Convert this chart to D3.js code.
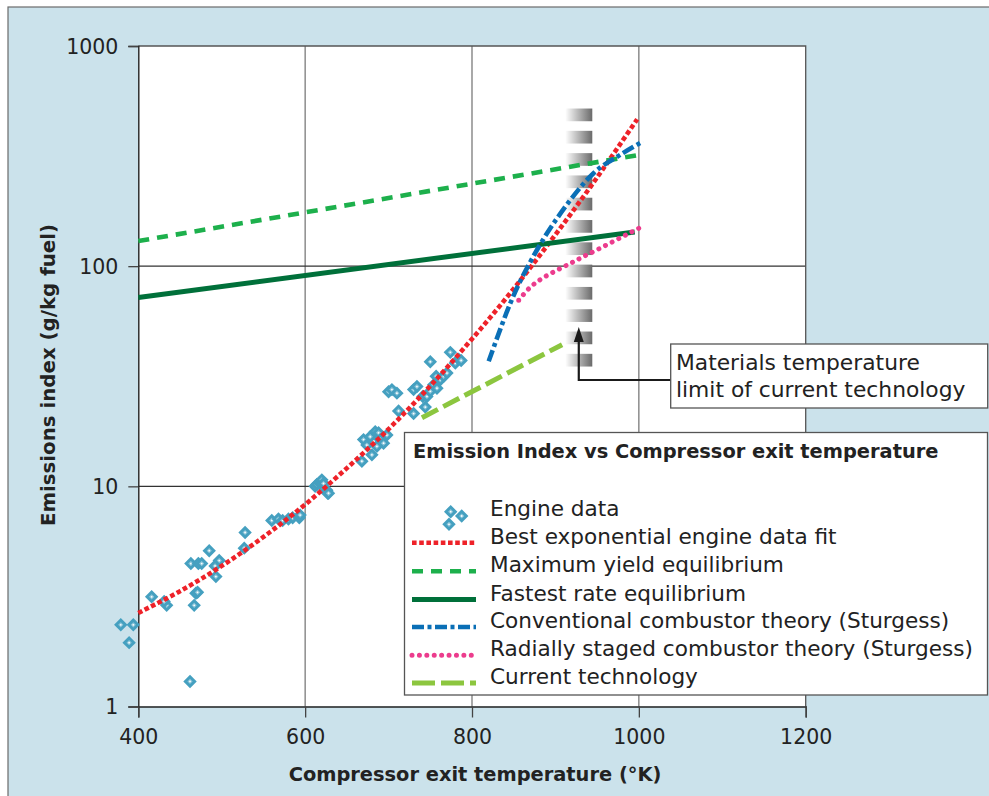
<!DOCTYPE html>
<html>
<head>
<meta charset="utf-8">
<script src="https://cdn.jsdelivr.net/npm/d3@7"></script>
<style>
  html, body { margin: 0; padding: 0; background: #ffffff; }
  svg { display: block; font-family: "DejaVu Sans", sans-serif; }
</style>
</head>
<body>
<svg id="chart" width="989" height="796"></svg>
<script>
// ---------------- DATA ----------------
const xTicks = [400, 600, 800, 1000, 1200];
const yTicks = [1, 10, 100, 1000];

// Engine data (compressor exit temperature K, emission index g/kg)
const engineT  = [379, 394, 389, 416, 434, 431, 462, 463, 472, 476, 469, 471, 467, 485, 497, 492, 493, 528, 527,
                  560, 568, 573, 580, 585, 593, 594, 612, 614, 618, 620, 622, 626, 627, 628,
                  668, 670, 674, 678, 680, 684, 686, 688, 690, 694, 698, 700, 704, 710, 712,
                  730, 730, 734, 741, 744, 746, 750, 750, 754, 757, 758, 762, 766, 770, 774, 780, 784, 787];
const engineEI = [2.35, 2.35, 1.95, 3.15, 2.88, 3.0, 1.30, 4.46, 4.46, 4.46, 3.27, 3.3, 2.88, 5.1, 4.6, 4.35, 3.89, 6.17, 5.24,
                  7.0, 7.1, 7.0, 7.1, 7.2, 7.2, 7.4, 10.0, 10.2, 10.3, 10.7, 10.3, 9.6, 9.3, 9.3,
                  13.0, 16.3, 15.4, 16.8, 13.9, 17.7, 15.2, 17.5, 16.3, 15.7, 17.1, 26.9, 27.5, 26.5, 22.0,
                  21.4, 27.5, 28.4, 25.6, 22.9, 25.6, 27.0, 36.8, 28.9, 31.6, 27.9, 30.5, 31.6, 32.7, 40.6, 36.3, 37.8, 37.3];

// Best exponential engine data fit
const fitT  = [400, 450, 500, 550, 600, 650, 700, 750, 800, 850, 900, 950, 998];
const fitEI = [2.66, 3.34, 4.35, 5.89, 8.27, 12.1, 18.2, 28.6, 46.7, 79, 139, 253, 465];

// Maximum yield equilibrium
const maxYieldT  = [400, 1000];
const maxYieldEI = [130, 320];

// Fastest rate equilibrium
const fastRateT  = [400, 995];
const fastRateEI = [72, 143];

// Conventional combustor theory (Sturgess)
const convT  = [820, 846, 864, 898, 946, 978, 1005];
const convEI = [37, 68, 95, 157, 265, 321, 369];

// Radially staged combustor theory (Sturgess)
const radialT  = [856, 868, 882, 918, 958, 1002];
const radialEI = [70, 79, 87, 103, 123, 150];

// Current technology
const currentT  = [740, 908];
const currentEI = [20.5, 44];

// Materials temperature limit band
const limitT = 928;
const limitTop = 520, limitBottom = 35;
const limitSegments = 12;

const legendTitle = "Emission Index vs Compressor exit temperature";
const legendLabels = ["Engine data", "Best exponential engine data fit", "Maximum yield equilibrium",
  "Fastest rate equilibrium", "Conventional combustor theory (Sturgess)",
  "Radially staged combustor theory (Sturgess)", "Current technology"];

// ---------------- LAYOUT ----------------
const svg = d3.select("#chart");
const L = 138.3, R = 805.7, T = 46, B = 706.5;
const x = d3.scaleLinear().domain([400, 1200]).range([L, R]);
const y = d3.scaleLog().domain([1, 1000]).range([B, T]);

// background panel
svg.append("rect").attr("x", 8).attr("y", 7).attr("width", 990).attr("height", 800)
  .attr("fill", "#cbe2eb").attr("stroke", "#6b6b6b").attr("stroke-width", 1.2);

// plot area
svg.append("rect").attr("x", L).attr("y", T).attr("width", R - L).attr("height", B - T)
  .attr("fill", "#ffffff");

// gridlines
svg.append("g").selectAll("line").data([600, 800, 1000]).join("line")
  .attr("x1", d => x(d)).attr("x2", d => x(d)).attr("y1", T).attr("y2", B)
  .attr("stroke", "#7a7a7a").attr("stroke-width", 1.3);
svg.append("g").selectAll("line").data([10, 100]).join("line")
  .attr("x1", L).attr("x2", R).attr("y1", d => y(d)).attr("y2", d => y(d))
  .attr("stroke", "#333333").attr("stroke-width", 1.1);

// plot frame (top & right)
svg.append("path").attr("d", `M${L},${T}H${R}V${B}`).attr("fill", "none")
  .attr("stroke", "#555").attr("stroke-width", 1.3);

// axes
const yAxis = svg.append("g").attr("transform", `translate(${L},0)`)
  .call(d3.axisLeft(y).tickValues(yTicks).tickSize(10).tickPadding(10).tickFormat(d3.format("d")));
const xAxis = svg.append("g").attr("transform", `translate(0,${B})`)
  .call(d3.axisBottom(x).tickValues(xTicks).tickSize(11).tickPadding(12).tickFormat(d3.format("d")));
[yAxis, xAxis].forEach(a => {
  a.select(".domain").attr("stroke", "#222").attr("stroke-width", 1.4);
  a.selectAll(".tick line").attr("stroke", "#444").attr("stroke-width", 1.3);
  a.selectAll(".tick text").attr("fill", "#222").attr("font-size", 20.5)
    .attr("font-family", "DejaVu Sans, sans-serif");
});
yAxis.selectAll(".tick text").attr("dy", "0.36em");
xAxis.selectAll(".tick text").attr("dy", "0.7em");

// axis titles
svg.append("text").attr("x", (L + R) / 2 + 3).attr("y", 781).attr("text-anchor", "middle")
  .attr("font-weight", "bold").attr("font-size", 19.4).attr("fill", "#222")
  .text("Compressor exit temperature (°K)");
svg.append("text").attr("transform", `translate(55,375) rotate(-90)`).attr("text-anchor", "middle")
  .attr("font-weight", "bold").attr("font-size", 19.8).attr("fill", "#222")
  .text("Emissions index (g/kg fuel)");

// materials limit band (gradient segments)
const defs = svg.append("defs");
const grad = defs.append("linearGradient").attr("id", "band").attr("x1", "0").attr("x2", "1").attr("y1", "0").attr("y2", "0");
grad.append("stop").attr("offset", "0").attr("stop-color", "#ffffff");
grad.append("stop").attr("offset", "1").attr("stop-color", "#6a6a6a");
const bandTop = y(limitTop), bandBot = y(limitBottom);
const period = (bandBot - bandTop) / (limitSegments - 0.43);
const bandW = 27;
svg.append("g").selectAll("rect").data(d3.range(limitSegments)).join("rect")
  .attr("x", x(limitT) - bandW / 2).attr("width", bandW)
  .attr("y", i => bandTop + i * period).attr("height", period * 0.57)
  .attr("fill", "url(#band)");

// engine data markers
function diamond(g, cx, cy) {
  g.append("rect").attr("x", -3.3).attr("y", -3.3).attr("width", 6.6).attr("height", 6.6)
    .attr("transform", `translate(${cx},${cy}) rotate(45)`)
    .attr("fill", "#8ec6da").attr("stroke", "#45a0c0").attr("stroke-width", 2.9);
  g.append("circle").attr("cx", cx).attr("cy", cy).attr("r", 0.9).attr("fill", "#ffffff");
}
const mg = svg.append("g");
engineT.forEach((t, i) => diamond(mg, x(t), y(engineEI[i])));

// line series
const series = [
  { t: fitT, v: fitEI, color: "#ee2229", width: 4.6, dash: "4.6,2.6", cap: "butt", curve: d3.curveCatmullRom },
  { t: maxYieldT, v: maxYieldEI, color: "#1db04c", width: 4.6, dash: "11,8", cap: "butt", curve: d3.curveLinear },
  { t: fastRateT, v: fastRateEI, color: "#00703a", width: 5, dash: null, cap: "butt", curve: d3.curveLinear },
  { t: convT, v: convEI, color: "#0a6fb6", width: 4.6, dash: "12,3.5,4,3.5", cap: "butt", curve: d3.curveCatmullRom },
  { t: radialT, v: radialEI, color: "#ec3c8d", width: 5, dash: "0.01,7.4", cap: "round", curve: d3.curveCatmullRom },
  { t: currentT, v: currentEI, color: "#8cc63f", width: 5, dash: "18,6", cap: "butt", curve: d3.curveLinear }
];
series.forEach(s => {
  const line = d3.line().x(d => x(d[0])).y(d => y(d[1])).curve(s.curve);
  svg.append("path").datum(s.t.map((t, i) => [t, s.v[i]]))
    .attr("d", line).attr("fill", "none").attr("stroke", s.color)
    .attr("stroke-width", s.width).attr("stroke-dasharray", s.dash).attr("stroke-linecap", s.cap);
});

// annotation arrow + box
const ax = x(limitT);
svg.append("path").attr("d", `M671,380H${ax}V340`).attr("fill", "none")
  .attr("stroke", "#1a1a1a").attr("stroke-width", 2.2);
svg.append("path").attr("d", `M${ax},327L${ax - 5},342L${ax + 5},342Z`).attr("fill", "#1a1a1a");
svg.append("rect").attr("x", 670.7).attr("y", 344).attr("width", 317).attr("height", 64)
  .attr("fill", "#ffffff").attr("stroke", "#555").attr("stroke-width", 1.3);
svg.append("text").attr("x", 676).attr("y", 369.5).attr("font-size", 21.8).attr("fill", "#222")
  .text("Materials temperature");
svg.append("text").attr("x", 676).attr("y", 396.5).attr("font-size", 21.8).attr("fill", "#222")
  .text("limit of current technology");

// legend
const lg = svg.append("g");
lg.append("rect").attr("x", 404.5).attr("y", 432.5).attr("width", 583).attr("height", 262.5)
  .attr("fill", "#ffffff").attr("stroke", "#555").attr("stroke-width", 1.3);
lg.append("text").attr("x", 413).attr("y", 458).attr("font-size", 19.4).attr("font-weight", "bold")
  .attr("fill", "#222").text(legendTitle);
const rowY = [515, 543.3, 571.7, 600, 627.5, 655.7, 683.5];
legendLabels.forEach((lab, i) => {
  lg.append("text").attr("x", 490).attr("y", rowY[i] + 0.5).attr("font-size", 21.6)
    .attr("fill", "#222").text(lab);
});
diamond(lg, 450.7, 511.7);
diamond(lg, 461.7, 516);
diamond(lg, 449, 524.3);
series.forEach((s, i) => {
  const yy = rowY[i + 1] - 0.5;
  lg.append("line").attr("x1", 412).attr("x2", 476).attr("y1", yy).attr("y2", yy)
    .attr("stroke", s.color).attr("stroke-width", s.width)
    .attr("stroke-dasharray", i === 5 ? "23,6" : s.dash).attr("stroke-linecap", s.cap);
});
</script>
</body>
</html>
